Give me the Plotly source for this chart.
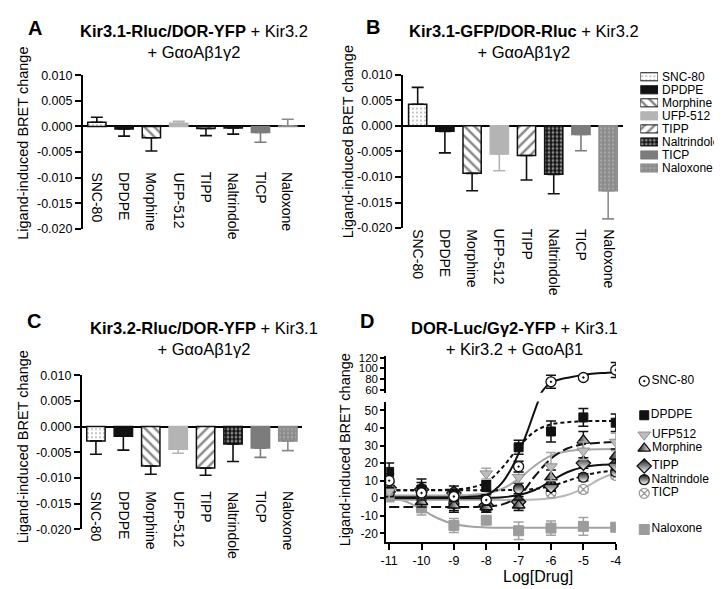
import numpy as np
import plotly.graph_objects as go

W, H = 722, 589
FONT = "Liberation Sans, Arial, sans-serif"

# ---------------- data ----------------
drugs = ["SNC-80", "DPDPE", "Morphine", "UFP-512", "TIPP", "Naltrindole", "TICP", "Naloxone"]

a_mean = [0.0008, -0.0005, -0.0022, 0.0006, -0.0004, -0.0003, -0.0012, 0.0001]
a_err = [0.0010, 0.0014, 0.0026, 0.0004, 0.0014, 0.0012, 0.0019, 0.0013]
b_mean = [0.0042, -0.0011, -0.0093, -0.0055, -0.0058, -0.0095, -0.0017, -0.0127]
b_err = [0.0033, 0.0042, 0.0034, 0.0033, 0.0048, 0.0038, 0.0032, 0.0055]
c_mean = [-0.0028, -0.0019, -0.0077, -0.0044, -0.0081, -0.0034, -0.0042, -0.0028]
c_err = [0.0026, 0.0027, 0.0016, 0.0008, 0.0014, 0.0034, 0.0018, 0.0019]

bar_ticks = [0.010, 0.005, 0.000, -0.005, -0.010, -0.015, -0.020]
bar_ticktext = ["0.010", "0.005", "0.000", "-0.005", "-0.010", "-0.015", "-0.020"]

# panel D
d_names = ["SNC-80", "DPDPE", "UFP512", "Morphine", "TIPP", "Naltrindole", "TICP", "Naloxone"]
d_x = [-11, -10, -9, -8, -7, -6, -5, -4]
d_xlabels = ["-11", "-10", "-9", "-8", "-7", "-6", "-5", "-4"]
d_vals = {
    "SNC-80": [10, 3, 1, -1, 18, 75, 83, 97],
    "DPDPE": [15, 5, 2, 7, 29, 38, 46, 43],
    "UFP512": [4, 2, 1, 14, 12, 18, 27, 32],
    "Morphine": [5, -2, -4, -5, -4, 12, 33, 24],
    "TIPP": [6, 5, 3, -4, -2, 7, 20, 19],
    "Naltrindole": [3, 3, -3, -5, 5.5, 7.5, 12, 15],
    "TICP": [9, 2, 0, -3, -3, 3, 5, 13],
    "Naloxone": [1, -5.5, -15.5, -12.5, -18.5, -17, -16, -16.5],
}
d_errs = {
    "SNC-80": [4, 4, 3, 3, 3, 12, 2, 14],
    "DPDPE": [5, 4, 3, 3, 4, 6, 5, 5],
    "UFP512": [4, 3, 3, 3, 3, 8, 5, 5],
    "Morphine": [4, 3, 4, 3, 3, 4, 5, 4],
    "TIPP": [5, 6, 4, 3, 3, 3, 3, 3],
    "Naltrindole": [3, 3, 4, 3, 3, 3, 2, 2],
    "TICP": [3, 3, 3, 3, 3, 3, 2, 2],
    "Naloxone": [3, 4, 4, 2, 5, 4, 5, 1],
}
# fitted curves
cx = [-11, -10.5, -10, -9.5, -9, -8.5, -8, -7.5, -7, -6.5, -6, -5.5, -5, -4.5, -4]
d_fit = {
    "DPDPE": [4.5, 4.5, 4.6, 4.7, 5.0, 6.0, 9.0, 17.5, 29.0, 38.0, 42.0, 43.3, 43.8, 44.0, 44.0],
    "UFP512": [1.5, 1.5, 1.5, 1.5, 1.6, 1.9, 2.8, 5.4, 11.0, 18.5, 24.2, 26.7, 27.6, 27.9, 28.0],
    "Morphine": [-5, -5, -5, -5, -5, -5, -4.8, -3.5, 1.0, 12.5, 22.5, 28.3, 30.7, 31.6, 32.0],
    "TIPP": [0, 0, 0, 0, 0, 0, 0.2, 0.6, 1.8, 4.7, 9.8, 14.8, 17.7, 18.9, 19.3],
    "Naltrindole": [4.5, 4.5, 4.5, 4.5, 4.5, 4.5, 4.5, 4.6, 4.8, 5.3, 7.0, 9.8, 12.8, 14.8, 15.8],
    "TICP": [-1, -1, -1, -1, -1, -1, -1, -1, -0.9, -0.7, 0.0, 1.8, 5.6, 10.8, 14.7],
    "Naloxone": [0.6, -1.8, -6.3, -11.4, -14.7, -16.1, -16.6, -16.8, -16.8, -16.8, -16.8, -16.8, -16.8, -16.8, -16.8],
}
snc_lo_x = [-11, -10, -9, -8.5, -8, -7.75, -7.5, -7.25, -7, -6.75, -6.5, -6.3]
snc_lo_y = [0.5, 0.5, 0.6, 0.9, 1.8, 4.5, 9, 16, 25.5, 37, 50, 60]
snc_hi_x = [-6.35, -6.26, -6.15, -6.05, -5.9, -5.65, -5.4, -5.15, -4.8, -4.4, -4.0]
snc_hi_y = [50, 58, 66, 71.5, 76, 80.5, 83.5, 86.5, 89.5, 91.5, 93]

d_lower_ticks = [-20, -10, 0, 10, 20, 30, 40, 50]
d_lower_text = ["-20", "-10", "0", "10", "20", "30", "40", "50"]
d_upper_ticks = [60, 80, 100, 120]
d_upper_text = ["60", "80", "100", "120"]

# ---------------- styles ----------------
def pxx(p):
    return p / W


def pxy(p):
    return 1 - p / H


def domx(a, b):
    return [pxx(a), pxx(b)]


def domy(top, bottom):
    return [pxy(bottom), pxy(top)]


BLACK = "#111111"
bar_style = {
    "SNC-80": dict(color="white", line=BLACK, err=BLACK,
                   pattern=dict(shape=".", fgcolor="#666666", bgcolor="white", size=4, solidity=0.2)),
    "DPDPE": dict(color=BLACK, line=BLACK, err=BLACK, pattern=None),
    "Morphine": dict(color="white", line=BLACK, err=BLACK,
                     pattern=dict(shape="\\", fgcolor=BLACK, bgcolor="white", size=7, solidity=0.35)),
    "UFP-512": dict(color="#b4b4b4", line="#b4b4b4", err="#b4b4b4", pattern=None),
    "TIPP": dict(color="white", line=BLACK, err=BLACK,
                 pattern=dict(shape="/", fgcolor=BLACK, bgcolor="white", size=7, solidity=0.35)),
    "Naltrindole": dict(color=BLACK, line=BLACK, err=BLACK,
                        pattern=dict(shape=".", fgcolor="white", bgcolor=BLACK, size=4, solidity=0.4)),
    "TICP": dict(color="#7c7c7c", line="#7c7c7c", err="#7c7c7c", pattern=None),
    "Naloxone": dict(color="#8c8c8c", line="#8c8c8c", err="#8c8c8c",
                     pattern=dict(shape=".", fgcolor="#c4c4c4", bgcolor="#8c8c8c", size=4, solidity=0.25)),
}

GREY = "#a6a6a6"
d_style = {
    "SNC-80": dict(marker=dict(symbol="circle-dot", size=10, color="white", line=dict(color=BLACK, width=1.3)),
                   lcolor=BLACK, dash="solid", ecolor=BLACK),
    "DPDPE": dict(marker=dict(symbol="square", size=9, color=BLACK, line=dict(color=BLACK, width=1)),
                  lcolor=BLACK, dash="4px,3px", ecolor=BLACK),
    "UFP512": dict(marker=dict(symbol="triangle-down", size=11, color="#bdbdbd", line=dict(color="#8f8f8f", width=1)),
                   lcolor=GREY, dash="solid", ecolor=GREY),
    "Morphine": dict(marker=dict(symbol="triangle-up", size=11, color=BLACK,
                                 gradient=dict(type="horizontal", color="white"), line=dict(color=BLACK, width=1.3)),
                     lcolor=BLACK, dash="10px,4px", ecolor=BLACK),
    "TIPP": dict(marker=dict(symbol="diamond", size=11, color=BLACK,
                             gradient=dict(type="vertical", color="white"), line=dict(color=BLACK, width=1.3)),
                 lcolor=BLACK, dash="solid", ecolor=BLACK),
    "Naltrindole": dict(marker=dict(symbol="circle", size=10, color=BLACK,
                                    gradient=dict(type="vertical", color="white"), line=dict(color=BLACK, width=1.3)),
                        lcolor=BLACK, dash="4px,3px", ecolor=BLACK),
    "TICP": dict(marker=dict(symbol="circle-x", size=10, color="white", line=dict(color="#9a9a9a", width=1.3)),
                 lcolor="#b8b8b8", dash="solid", ecolor="#b8b8b8"),
    "Naloxone": dict(marker=dict(symbol="square", size=10, color="#9c9c9c", line=dict(color="#9c9c9c", width=1)),
                     lcolor="#a3a3a3", dash="solid", ecolor="#a3a3a3"),
}

fig = go.Figure()
annotations = []


def axis_common(tl=6):
    return dict(showgrid=False, linecolor="black", linewidth=2, ticks="outside", ticklen=tl,
                tickwidth=2, tickcolor="black", tickfont=dict(family=FONT, size=12.5, color="black"))


# ---------------- bar panels ----------------
panels = [
    dict(n="", mean=a_mean, err=a_err, xd=(70, 296), yd=(61.7, 219), xr=[-0.51, 7.65], laby=159,
         title="<b>Kir3.1-Rluc/DOR-YFP</b> + Kir3.2<br>+ GαoAβ1γ2", txy=(183, 27.5),
         letter="A", lxy=(21, 13), yl=(9, 131)),
    dict(n="2", mean=b_mean, err=b_err, xd=(395, 618), yd=(61, 218.3), xr=[-0.54, 7.53], laby=217,
         title="<b>Kir3.1-GFP/DOR-Rluc</b> + Kir3.2<br>+ GαoAβ1γ2", txy=(518, 27.5),
         letter="B", lxy=(365, 12), yl=(339.5, 130)),
    dict(n="3", mean=c_mean, err=c_err, xd=(69, 292), yd=(369, 526.7), xr=[-0.51, 7.5], laby=486,
         title="<b>Kir3.2-Rluc/DOR-YFP</b> + Kir3.1<br>+ GαoAβ1γ2", txy=(192.5, 331.5),
         letter="C", lxy=(20, 313), yl=(10, 442)),
]

for p in panels:
    xa, ya = "x" + p["n"], "y" + p["n"]
    for i, d in enumerate(drugs):
        st = bar_style[d]
        v, e = p["mean"][i], p["err"][i]
        up, dn = (e, 0) if v >= 0 else (0, e)
        marker = dict(color=st["color"], line=dict(color=st["line"], width=1.5))
        if st["pattern"]:
            marker["pattern"] = st["pattern"]
        fig.add_trace(go.Bar(x=[d], y=[v], width=0.67, marker=marker, xaxis=xa, yaxis=ya,
                             error_y=dict(type="data", symmetric=False, array=[up], arrayminus=[dn],
                                          color=st["err"], thickness=1.6, width=6),
                             showlegend=False, hoverinfo="skip"))
        annotations.append(dict(x=d, y=pxy(p["laby"]), xref=xa, yref="paper", text=d, textangle=90,
                                showarrow=False, xanchor="center", yanchor="top",
                                font=dict(family=FONT, size=14, color="black")))
    k = p["n"]
    fig.layout["xaxis" + k] = dict(domain=domx(*p["xd"]), range=p["xr"], anchor=ya, type="category",
                                   categoryorder="array", categoryarray=drugs, visible=False)
    yax = axis_common()
    yax.update(domain=domy(*p["yd"]), range=[-0.020, 0.010], anchor=xa, showline=True,
               tickvals=bar_ticks, ticktext=bar_ticktext, zeroline=True, zerolinecolor="black",
               zerolinewidth=2)
    fig.layout["yaxis" + k] = yax
    annotations.append(dict(x=pxx(p["txy"][0]), y=pxy(p["txy"][1]), xref="paper", yref="paper",
                            text=p["title"], showarrow=False, xanchor="center", yanchor="middle",
                            font=dict(family=FONT, size=16.5, color="black")))
    annotations.append(dict(x=pxx(p["lxy"][0]), y=pxy(p["lxy"][1]), xref="paper", yref="paper",
                            text="<b>%s</b>" % p["letter"], showarrow=False, xanchor="center",
                            yanchor="middle", font=dict(family=FONT, size=20, color="black")))
    annotations.append(dict(x=pxx(p["yl"][0]), y=pxy(p["yl"][1]), xref="paper", yref="paper",
                            text="Ligand-induced BRET change", textangle=-90, showarrow=False,
                            xanchor="center", yanchor="middle",
                            font=dict(family=FONT, size=14.5, color="black")))

# ---------------- B legend (hidden axis) ----------------
for d in drugs:
    st = bar_style[d]
    marker = dict(color=st["color"], line=dict(color=st["line"], width=1))
    if st["pattern"]:
        marker["pattern"] = st["pattern"]
    fig.add_trace(go.Bar(x=[1], y=[d], base=0, orientation="h", width=0.62, marker=marker,
                         xaxis="x6", yaxis="y6", showlegend=False, hoverinfo="skip"))
fig.layout["xaxis6"] = dict(domain=domx(636, 654), range=[0, 1], anchor="y6", visible=False)
fig.layout["yaxis6"] = dict(domain=domy(56.6, 163.4), range=[7.5, -0.5], anchor="x6", type="category",
                            categoryorder="array", categoryarray=drugs, tickmode="array",
                            tickvals=drugs, ticktext=drugs, side="right", showline=False,
                            ticks="", showgrid=False, zeroline=False, ticklabelstandoff=3,
                            tickfont=dict(family=FONT, size=12, color="black"))

# ---------------- panel D ----------------
for name in ["Naloxone", "TICP", "UFP512", "Naltrindole", "TIPP", "Morphine", "DPDPE"]:
    st = d_style[name]
    fig.add_trace(go.Scatter(x=cx, y=d_fit[name], mode="lines", line=dict(color=st["lcolor"], width=2,
                             dash=st["dash"], shape="spline", smoothing=1), xaxis="x4", yaxis="y4",
                             showlegend=False, hoverinfo="skip"))
fig.add_trace(go.Scatter(x=snc_lo_x, y=snc_lo_y, mode="lines", line=dict(color=BLACK, width=2, shape="spline"),
                         xaxis="x4", yaxis="y4", showlegend=False, hoverinfo="skip"))
fig.add_trace(go.Scatter(x=snc_hi_x, y=snc_hi_y, mode="lines", line=dict(color=BLACK, width=2, shape="spline"),
                         xaxis="x4", yaxis="y5", showlegend=False, hoverinfo="skip"))

LOWER_TOP = 55
for name in ["Naloxone", "TICP", "Naltrindole", "TIPP", "Morphine", "UFP512", "DPDPE", "SNC-80"]:
    st = d_style[name]
    xs = np.array(d_x, float)
    ys = np.array(d_vals[name], float)
    es = np.array(d_errs[name], float)
    lo = ys < LOWER_TOP
    for mask, yax in [(lo, "y4"), (~lo, "y5")]:
        if mask.any():
            fig.add_trace(go.Scatter(x=xs[mask], y=ys[mask], mode="markers", marker=st["marker"],
                                     error_y=dict(type="data", array=es[mask], color=st["ecolor"],
                                                  thickness=1.5, width=5),
                                     xaxis="x4", yaxis=yax, showlegend=False, hoverinfo="skip"))

xd4 = axis_common()
xd4.update(domain=domx(378, 611.2), range=[-11.09, -3.995], anchor="y4", showline=True,
           tickvals=d_x, ticktext=d_xlabels, zeroline=False)
fig.layout["xaxis4"] = xd4
yd4 = axis_common(4)
yd4.update(domain=domy(396, 540), range=[-25, 55], anchor="x4", showline=True,
           tickvals=d_lower_ticks, ticktext=d_lower_text, zeroline=False)
yd4["tickfont"]["size"] = 12
fig.layout["yaxis4"] = yd4
yd5 = axis_common(4)
yd5.update(domain=domy(349, 387), range=[54.5, 123.6], anchor="x4", showline=True,
           tickvals=d_upper_ticks, ticktext=d_upper_text, zeroline=False)
yd5["tickfont"]["size"] = 11.5
fig.layout["yaxis5"] = yd5

annotations.append(dict(x=pxx(508), y=pxy(331.5), xref="paper", yref="paper",
                        text="<b>DOR-Luc/Gγ2-YFP</b> + Kir3.1<br>+ Kir3.2 + GαoAβ1", showarrow=False,
                        xanchor="center", yanchor="middle", font=dict(family=FONT, size=16.5, color="black")))
annotations.append(dict(x=pxx(358), y=pxy(313), xref="paper", yref="paper", text="<b>D</b>",
                        showarrow=False, xanchor="center", yanchor="middle",
                        font=dict(family=FONT, size=20, color="black")))
annotations.append(dict(x=pxx(337), y=pxy(445), xref="paper", yref="paper",
                        text="Ligand-induced BRET change", textangle=-90, showarrow=False,
                        xanchor="center", yanchor="middle", font=dict(family=FONT, size=14.5, color="black")))
annotations.append(dict(x=pxx(532), y=pxy(575), xref="paper", yref="paper", text="Log[Drug]",
                        showarrow=False, xanchor="center", yanchor="middle",
                        font=dict(family=FONT, size=16, color="black")))

# ---------------- D legend (hidden axis, y in pixel rows) ----------------
LEG_D_ROWS = [375, 410, 430, 444, 462, 476, 490, 527]
for name, row in zip(d_names, LEG_D_ROWS):
    st = d_style[name]
    fig.add_trace(go.Scatter(x=[10], y=[row], mode="markers+text", marker=st["marker"], text=[name],
                             textposition="middle right", cliponaxis=False,
                             textfont=dict(family=FONT, size=12, color="black"),
                             xaxis="x7", yaxis="y7", showlegend=False, hoverinfo="skip"))
fig.layout["xaxis7"] = dict(domain=domx(630, 720), range=[0, 90], anchor="y7", visible=False)
fig.layout["yaxis7"] = dict(domain=domy(360, 540), range=[540, 360], anchor="x7", visible=False)

fig.update_layout(width=W, height=H, margin=dict(l=0, r=0, t=0, b=0), barmode="overlay",
                  plot_bgcolor="white", paper_bgcolor="white", showlegend=False,
                  annotations=annotations, font=dict(family=FONT, color="black"))

fig.write_html("out.html")
